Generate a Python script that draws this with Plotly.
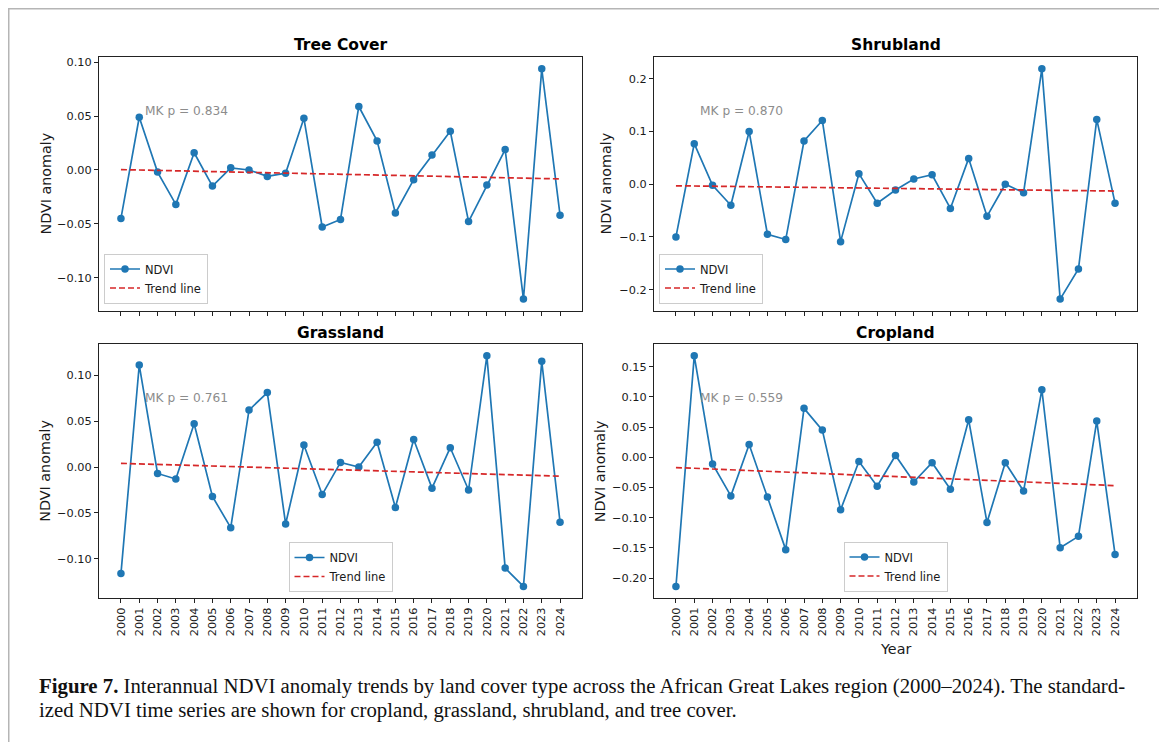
import plotly.graph_objects as go

# ---------------- data ----------------
years = list(range(2000, 2025))

tree_cover = [-0.045, 0.049, -0.002, -0.032, 0.016, -0.015, 0.002, 0.000, -0.006, -0.003,
              0.048, -0.053, -0.046, 0.059, 0.027, -0.040, -0.009, 0.014, 0.036, -0.048,
              -0.014, 0.019, -0.120, 0.094, -0.042]
shrubland = [-0.100, 0.077, -0.002, -0.040, 0.100, -0.095, -0.105, 0.082, 0.121, -0.109,
             0.020, -0.036, -0.011, 0.010, 0.018, -0.046, 0.049, -0.061, 0.000, -0.016,
             0.219, -0.218, -0.161, 0.123, -0.036]
grassland = [-0.116, 0.111, -0.007, -0.013, 0.047, -0.032, -0.066, 0.062, 0.081, -0.062,
             0.024, -0.030, 0.005, 0.000, 0.027, -0.044, 0.030, -0.023, 0.021, -0.025,
             0.121, -0.110, -0.130, 0.115, -0.060]
cropland = [-0.214, 0.168, -0.011, -0.064, 0.021, -0.066, -0.153, 0.081, 0.045, -0.087,
            -0.007, -0.048, 0.003, -0.041, -0.009, -0.053, 0.062, -0.108, -0.009, -0.056,
            0.112, -0.150, -0.131, 0.060, -0.161]

trend_years = [2000, 2024]
trend_tree = [0.0003, -0.0083]
trend_shrub = [-0.003, -0.013]
trend_grass = [0.004, -0.010]
trend_crop = [-0.017, -0.047]

titles = ["Tree Cover", "Shrubland", "Grassland", "Cropland"]
mk_labels = ["MK p = 0.834", "MK p = 0.870", "MK p = 0.761", "MK p = 0.559"]
series = [tree_cover, shrubland, grassland, cropland]
trends = [trend_tree, trend_shrub, trend_grass, trend_crop]
y_dtick = [0.05, 0.1, 0.05, 0.05]
y_fmt = [".2f", ".1f", ".2f", ".2f"]

caption_bold = "Figure 7."
caption_line1 = (" Interannual NDVI anomaly trends by land cover type across the African Great Lakes "
                 "region (2000–2024). The standard-")
caption_line2 = "ized NDVI time series are shown for cropland, grassland, shrubland, and tree cover."

# ---------------- layout geometry (screen pixels) ----------------
# the page body keeps its default 8px margin, so the figure is 8px smaller
# and every screen coordinate is shifted by that offset
OFF = 8
W, H = 1167 - OFF, 742 - OFF
cols = [(99, 582), (654, 1137)]
rows = [(57.3, 310.6), (344.3, 598)]


def px(x):
    return (x - OFF) / W


def py(y):
    return 1 - (y - OFF) / H


BLUE = "#1f77b4"
RED = "#d62728"
FONT = "DejaVu Sans"
TXT = "#1a1a1a"

fig = go.Figure()
annotations = []

legend_defs = [
    dict(x=px(104), y=py(303.5), xanchor="left", yanchor="bottom"),
    dict(x=px(659), y=py(303.5), xanchor="left", yanchor="bottom"),
    dict(x=px((cols[0][0] + cols[0][1]) / 2), y=py(592), xanchor="center", yanchor="bottom"),
    dict(x=px((cols[1][0] + cols[1][1]) / 2), y=py(591.5), xanchor="center", yanchor="bottom"),
]
ylabel_x = [45.5, 605.5, 45.5, 600]
title_y = [45, 45, 333, 333]

for i in range(4):
    r, c = divmod(i, 2)
    ax = "" if i == 0 else str(i + 1)
    leg = "legend" if i == 0 else f"legend{i + 1}"
    fig.add_trace(go.Scatter(
        x=years, y=series[i], mode="lines+markers", name="NDVI",
        line=dict(color=BLUE, width=1.7), marker=dict(color=BLUE, size=7.5),
        xaxis="x" + ax, yaxis="y" + ax, legend=leg, hoverinfo="skip"))
    fig.add_trace(go.Scatter(
        x=trend_years, y=trends[i], mode="lines", name="Trend line",
        line=dict(color=RED, width=1.7, dash="6px,3px"),
        xaxis="x" + ax, yaxis="y" + ax, legend=leg, hoverinfo="skip"))

    vals = series[i] + trends[i]
    lo, hi = min(vals), max(vals)
    pad = (hi - lo) * 0.05
    x0, x1 = cols[c]
    y0, y1 = rows[r]
    common_axis = dict(showgrid=False, zeroline=False, showline=True, mirror=True,
                       linecolor="#222222", linewidth=1, ticks="outside", ticklen=4,
                       tickcolor="#222222", tickwidth=1,
                       tickfont=dict(family=FONT, size=11.3, color=TXT))
    fig.update_layout(**{
        "xaxis" + ax: dict(common_axis, domain=[px(x0), px(x1)], range=[1998.8, 2025.2],
                           tickmode="array", tickvals=years, ticktext=[str(y) for y in years],
                           tickangle=-90, showticklabels=(r == 1),
                           anchor="y" + ax),
        "yaxis" + ax: dict(common_axis, domain=[py(y1), py(y0)], range=[lo - pad, hi + pad],
                           tick0=0, dtick=y_dtick[i], tickformat=y_fmt[i],
                           anchor="x" + ax),
        leg: dict(legend_defs[i], bgcolor="rgba(255,255,255,0.85)", bordercolor="#cccccc",
                  borderwidth=1, font=dict(family=FONT, size=11.5, color=TXT),
                  tracegroupgap=0, itemwidth=30),
    })
    cx = (x0 + x1) / 2
    cy = (y0 + y1) / 2
    annotations.append(dict(text="<b>" + titles[i] + "</b>", x=px(cx), y=py(title_y[i]),
                            xref="paper", yref="paper", showarrow=False,
                            xanchor="center", yanchor="middle",
                            font=dict(family=FONT, size=15.5, color="#000000")))
    annotations.append(dict(text="NDVI anomaly", x=px(ylabel_x[i]), y=py(cy),
                            xref="paper", yref="paper", showarrow=False, textangle=-90,
                            xanchor="center", yanchor="middle",
                            font=dict(family=FONT, size=14.3, color=TXT)))
    annotations.append(dict(text=mk_labels[i], x=px(x0 + 44), y=py(y0 + 54),
                            xref="paper", yref="paper", showarrow=False,
                            xanchor="left", yanchor="middle",
                            font=dict(family=FONT, size=12.2, color="#8c8c8c")))

annotations.append(dict(text="Year", x=px((cols[1][0] + cols[1][1]) / 2), y=py(649),
                        xref="paper", yref="paper", showarrow=False,
                        xanchor="center", yanchor="middle",
                        font=dict(family=FONT, size=14.3, color=TXT)))
annotations.append(dict(text="<b>" + caption_bold + "</b>" + caption_line1, x=px(37), y=py(686),
                        xref="paper", yref="paper", showarrow=False,
                        xanchor="left", yanchor="middle",
                        font=dict(family="Liberation Serif", size=20.8, color="#111111")))
annotations.append(dict(text=caption_line2, x=px(37), y=py(710),
                        xref="paper", yref="paper", showarrow=False,
                        xanchor="left", yanchor="middle",
                        font=dict(family="Liberation Serif", size=20.8, color="#111111")))

fig.update_layout(
    width=W, height=H, margin=dict(l=0, r=0, t=0, b=0),
    paper_bgcolor="white", plot_bgcolor="white",
    showlegend=True, annotations=annotations,
    shapes=[dict(type="rect", xref="paper", yref="paper",
                 x0=px(8.75), x1=px(1163), y0=-0.05, y1=py(8.75),
                 line=dict(color="#b5b5b5", width=1.5), fillcolor="rgba(0,0,0,0)",
                 layer="below")],
)

fig.write_html("out.html")
